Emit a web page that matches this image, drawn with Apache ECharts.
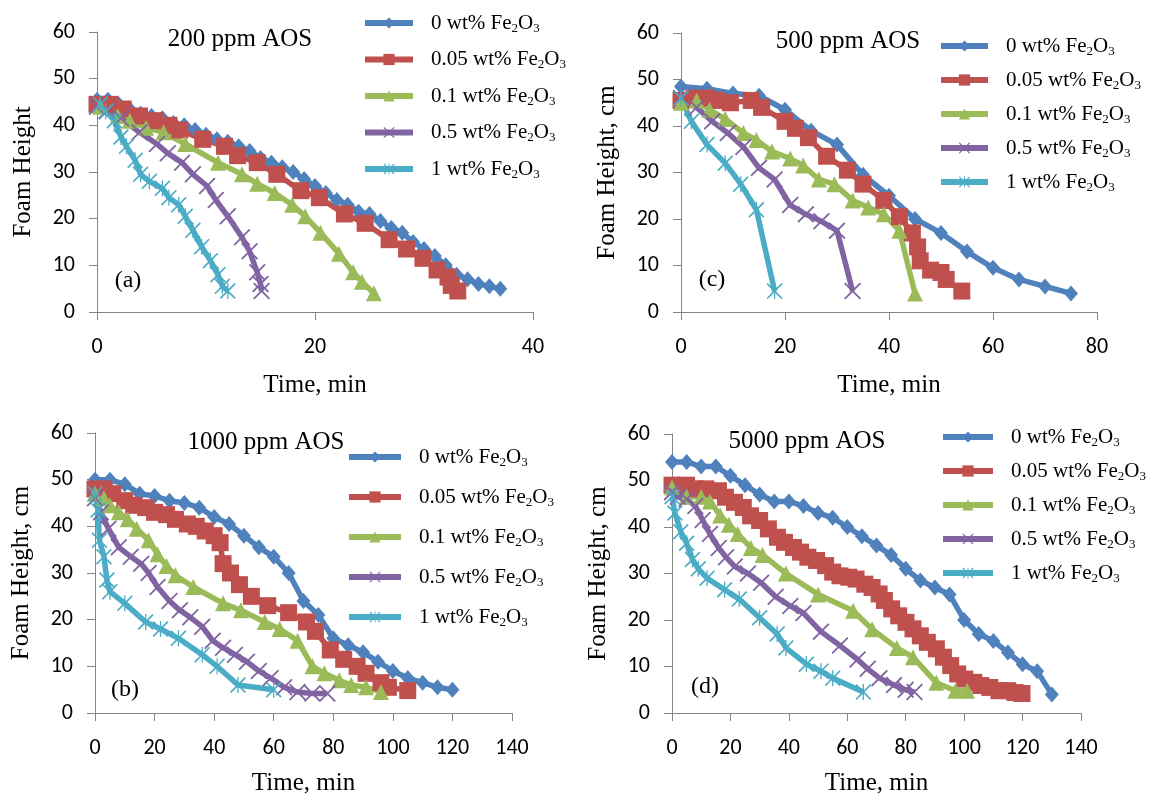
<!DOCTYPE html>
<html>
<head>
<meta charset="utf-8">
<script src="https://cdn.jsdelivr.net/npm/echarts@6/dist/echarts.min.js"></script>
<style>
html, body { margin: 0; padding: 0; background: #fff; }
#chart { width: 1169px; height: 800px; }
</style>
</head>
<body>
<div id="chart"></div>
<script>
// series names and colours
var seriesNames = ['0 wt% Fe2O3', '0.05 wt% Fe2O3', '0.1 wt% Fe2O3', '0.5 wt% Fe2O3', '1 wt% Fe2O3'];
var seriesColors = ['#4F81BD', '#C0504D', '#9BBB59', '#8064A2', '#4BACC6'];

// panel titles / labels
var panelTitles = ['200 ppm AOS', '500 ppm AOS', '1000 ppm AOS', '5000 ppm AOS'];
var panelLetters = ['(a)', '(c)', '(b)', '(d)'];
var yNames = ['Foam Height', 'Foam Height, cm', 'Foam Height, cm', 'Foam Height, cm'];
var xMax = [40, 80, 140, 140];

// (a) 200 ppm AOS  [time min, foam height]
var a_0 = [[0,45.5],[1,45.5],[2,44.5],[3,43.5],[4,42.5],[5,42],[6,41.5],[7,40.5],[8,40],[9,39],[10,38],[11,37],[12,36.5],[13,35.5],[14,34.5],[15,33],[16,32],[17,31],[18,30],[19,28.5],[20,27],[21,25.5],[22,24],[23,23],[24,21.5],[25,21],[26,19.5],[27,18],[28,17],[29,15],[30,13.5],[31,12],[32,10],[33,8],[34,7],[35,6],[36,5.5],[37,5]];
var a_005 = [[0,44.5],[1.2,44.5],[2.4,43.5],[3.9,42],[5.3,41],[6.6,40],[7.6,39],[9.7,37],[11.7,35.5],[12.9,33.5],[14.7,32],[16.5,29.5],[18.7,26],[20.4,24.5],[22.7,21],[24.6,19],[26.8,15.5],[28.4,13.5],[29.9,11.5],[31.2,9],[32.2,7.5],[32.5,5.7],[33.1,4.5]];
var a_01 = [[0.3,44],[1.9,42],[3,41],[4.5,39.5],[6.1,38.5],[8.1,36],[11.1,32],[13.3,29.5],[14.7,27.5],[16.3,25.5],[17.9,23],[19.1,20.5],[20.5,17],[22.2,12.5],[23.5,8.5],[24.3,6.5],[25.4,4]];
var a_05 = [[0,44],[0.9,43],[2.2,41.5],[3.9,38.5],[5.5,36],[6.5,34],[7.8,32],[8.8,29.5],[10.1,27],[10.9,24],[12,20.5],[13.3,16],[14,13],[14.7,8.5],[15,6],[15.1,4.5]];
var a_1 = [[0.3,44.5],[0.8,43],[1.6,41],[2.2,37.5],[2.7,35.5],[3.5,32.5],[4,29.5],[4.8,28],[6,26.5],[6.6,24.5],[7.5,23],[8.1,20.5],[8.8,17.5],[9.6,14],[10.4,11],[11.1,8],[11.5,5.5],[12,4.5]];

// (c) 500 ppm AOS
var c_0 = [[0,48.5],[5,48],[10,47],[15,46.5],[20,43.5],[25,39],[30,36],[35,29.5],[40,25],[45,20],[50,17],[55,13],[60,9.5],[65,7],[70,5.5],[75,4]];
var c_005 = [[0,45.5],[2.5,46],[5,46],[7,45.5],[9.5,45],[13.5,45.5],[15.5,44],[20,41],[22,39.5],[24.5,37.5],[28,33.5],[32,30.5],[35,27.5],[39,24],[42,20.5],[44.5,17],[45.5,14],[46,11],[48,9],[50,8.5],[51,7],[54,4.5]];
var c_01 = [[0,45],[3,45.5],[5.5,43.5],[8.5,41.5],[12,38.5],[14.5,37],[17.5,34.5],[21,33],[23.5,31.5],[26.5,28.5],[29.5,27.5],[33,24],[36,22.5],[39,21],[42,17.5],[45,4]];
var c_05 = [[0,46],[3,44],[6,41],[9,38.5],[12,35.5],[15,31],[18,28.5],[21,23],[24,21],[27,19.5],[30,17.5],[33,4.5]];
var c_1 = [[0,46],[2,41],[5,36],[8.5,32],[11.5,27.5],[14.5,22],[18,4.5]];

// (b) 1000 ppm AOS
var b_0 = [[0,50],[5,50],[10,49],[15,47],[20,46.5],[25,45.5],[30,45],[35,44],[40,42],[45,40.5],[50,38],[55,35.5],[60,33.5],[65,30],[70,24],[75,21],[80,16],[85,14.5],[90,13],[95,11],[100,9],[105,7.5],[110,6.5],[115,5.5],[120,5]];
var b_005 = [[0,48],[3,48],[6,47],[10,45.5],[13,44.5],[17,44],[20,43],[24,42.5],[27,41.5],[31,40.5],[34,40],[37,39],[40,38],[42,36.5],[43,32],[45.5,30],[48.5,27.5],[52.5,25],[58,23],[65,21.5],[71,19.5],[74,17.5],[79,13.5],[83.5,11.5],[88,10],[91,8.5],[96,6.5],[98.5,5.5],[105,4.8]];
var b_01 = [[0,47],[3,46],[5,44.5],[8,43],[11,41.5],[14,39.5],[18,37],[21,34],[24,31.5],[27,29.5],[33,27],[43,23.5],[49,22],[57,19.5],[62,18],[68,15.5],[73,10],[77,8.5],[82,7],[86,6],[91,5.5],[96,4.5]];
var b_05 = [[0,46],[2,43],[4.5,39.5],[8,35.5],[12,33.5],[15.5,32],[18,30],[21,27],[25,24],[28.5,22],[32,20.5],[36,18.5],[39.5,15.5],[43,14],[47,12.5],[51,11],[55,9],[59,7.5],[63.5,5.5],[68,4.5],[73,4.2],[78,4.2]];
var b_1 = [[0,47],[1,43.5],[1.5,37],[3,33.5],[4,28.5],[5,26],[10,23.5],[17,19.5],[22,18],[28,16],[36,12.5],[41,10],[48,6],[60,5]];

// (d) 5000 ppm AOS
var d_0 = [[0,54],[5,54],[10,53],[15,53],[20,51],[25,49],[30,47],[35,45.5],[40,45.5],[45,44.5],[50,43],[55,42],[60,40],[65,38],[70,36],[75,34],[80,31],[85,28.5],[90,27],[95,25.5],[100,20],[105,17],[110,15.5],[115,13],[120,10.5],[125,9],[130,4]];
var d_005 = [[0,49],[5,49],[8,48.2],[11.6,48.2],[15.9,47.8],[18.3,46.4],[21.4,45.3],[24.4,44.2],[26.9,42.4],[30,41.4],[33,39.6],[36.1,37.8],[38.5,36.7],[41.6,35.6],[44,34.6],[46.5,33.5],[49.5,32.8],[52.6,31.7],[55,30.3],[57.5,29.5],[60.5,29.2],[63,28.8],[66,27.7],[68.5,27],[70.9,25.6],[72.7,24.2],[75.2,22.4],[77.6,20.9],[80.1,19.5],[82.5,18.1],[85,16.6],[87.4,15.2],[90.5,13.8],[92.9,12],[95.4,10.2],[97.8,8.4],[100.2,7.3],[103.3,6.6],[105.7,5.9],[108.8,5.5],[111.9,4.8],[114.9,4.8],[117.4,4.4],[119.8,4.2]];
var d_01 = [[0,48.5],[5,46.5],[10,46.5],[13,45.5],[16.5,42.5],[19.5,40.5],[22.5,38.5],[27,35.5],[31,34],[39,30],[50,25.5],[62,22],[68.5,18],[77,14],[82.5,12],[90.5,6.5],[97,4.8],[101,4.8]];
var d_05 = [[0,47.5],[2,46.5],[5,46],[8,44.5],[10.5,41.5],[13,38.5],[16,35.5],[18.5,33.5],[21.5,31.5],[26,30],[30.5,28],[35.5,25],[40.5,23],[45,21.5],[51,17.5],[57.5,14.5],[63.5,11.5],[67,9.5],[71,7.5],[76,6],[80,5],[83,4.5]];
var d_1 = [[0,46.5],[1,43],[3,39],[5,36.5],[7,33],[9,31],[12,29],[18,26.5],[23,24.5],[30,20.5],[36,17],[39,14],[46,10.5],[51,9],[55,7.5],[65.5,4.5]];

var panelData = [
    [a_0, a_005, a_01, a_05, a_1],
    [c_0, c_005, c_01, c_05, c_1],
    [b_0, b_005, b_01, b_05, b_1],
    [d_0, d_005, d_01, d_05, d_1]
];

// marker shapes (excel style)
var xMark = 'path://M0,1.5 L1.5,0 L10,8.5 L18.5,0 L20,1.5 L11.5,10 L20,18.5 L18.5,20 L10,11.5 L1.5,20 L0,18.5 L8.5,10 Z';
var starMark = xMark + ' M9.2,0 L10.8,0 L10.8,20 L9.2,20 Z';
var seriesSymbols = ['diamond', 'rect', 'triangle', xMark, starMark];
var symbolSizes = [[14, 16], 17, 16, 17, 16];

// layout of the four panels
var grids = [
    {left: 97, top: 32, width: 436, height: 280},
    {left: 681, top: 33, width: 416, height: 279},
    {left: 95, top: 433, width: 417, height: 280},
    {left: 672, top: 434, width: 409, height: 279}
];
var legendPos = [
    {left: 362, top: 11, itemWidth: 48, itemGap: 12.5},
    {left: 938, top: 34, itemWidth: 47, itemGap: 10},
    {left: 346, top: 445, itemWidth: 52, itemGap: 16},
    {left: 940, top: 425, itemWidth: 50, itemGap: 10}
];
var titlePos = [[240, 39], [848, 41], [266, 442], [807, 441]];
var letterPos = [[128, 281], [712, 280], [125, 690], [705, 687]];

var serif = '"Liberation Serif", "Times New Roman", serif';
var axisGray = '#868686';

function fmtLegend(name) {
    return name.replace('Fe2O3', 'Fe{s|2}O{s|3}');
}

function build_option() {
    var xAxes = [], yAxes = [], series = [], legends = [], graphics = [];
    for (var p = 0; p < 4; p++) {
        var small = p >= 2;
        xAxes.push({
            type: 'value', gridIndex: p, min: 0, max: xMax[p], interval: 20,
            name: 'Time, min', nameLocation: 'middle', nameGap: small ? 58 : 61,
            nameTextStyle: {fontFamily: serif, fontSize: 25, color: '#000'},
            axisLine: {show: true, lineStyle: {color: axisGray, width: 1}},
            axisTick: {show: true, inside: false, length: 8, lineStyle: {color: axisGray}},
            axisLabel: {fontFamily: 'Carlito, Lato, sans-serif', fontSize: 22, color: '#000', margin: 24},
            splitLine: {show: false}
        });
        yAxes.push({
            type: 'value', gridIndex: p, min: 0, max: 60, interval: 10,
            name: yNames[p], nameLocation: 'middle', nameGap: 61,
            nameTextStyle: {fontFamily: serif, fontSize: 25, color: '#000'},
            axisLine: {show: true, lineStyle: {color: axisGray, width: 1}},
            axisTick: {show: true, inside: false, length: 8, lineStyle: {color: axisGray}},
            axisLabel: {fontFamily: 'Carlito, Lato, sans-serif', fontSize: 22, color: '#000', margin: 22},
            splitLine: {show: false}
        });
        for (var s = 0; s < 5; s++) {
            series.push({
                name: seriesNames[s], type: 'line',
                xAxisIndex: p, yAxisIndex: p,
                data: panelData[p][s],
                symbol: seriesSymbols[s], symbolSize: symbolSizes[s],
                showAllSymbol: true,
                lineStyle: {color: seriesColors[s], width: 5.5},
                itemStyle: {color: seriesColors[s]},
                animation: false
            });
        }
        var lp = legendPos[p];
        legends.push({
            orient: 'vertical', left: lp.left, top: lp.top, padding: 0,
            itemWidth: lp.itemWidth, itemHeight: 14, itemGap: lp.itemGap,
            data: seriesNames, selectedMode: false,
            formatter: fmtLegend,
            lineStyle: {width: 6},
            textStyle: {
                fontFamily: serif, fontSize: 21, color: '#000', lineHeight: 24,
                padding: [0, 0, 0, 13],
                rich: {s: {fontFamily: serif, fontSize: 13, lineHeight: 14, verticalAlign: 'bottom', color: '#000'}}
            }
        });
        graphics.push({
            type: 'text', x: titlePos[p][0], y: titlePos[p][1],
            style: {text: panelTitles[p], fontFamily: serif, fontSize: 25, fill: '#000', align: 'center', verticalAlign: 'middle'}
        });
        graphics.push({
            type: 'text', x: letterPos[p][0], y: letterPos[p][1],
            style: {text: panelLetters[p], fontFamily: serif, fontSize: 24, fill: '#000', align: 'center', verticalAlign: 'middle'}
        });
    }
    return {
        backgroundColor: '#fff',
        animation: false,
        grid: grids.map(function (g) { return Object.assign({outerBoundsMode: 'none', containLabel: false}, g); }),
        xAxis: xAxes,
        yAxis: yAxes,
        legend: legends,
        graphic: graphics,
        series: series
    };
}

var myChart = echarts.init(document.getElementById('chart'), null, {renderer: 'canvas'});
myChart.setOption(build_option());
</script>
</body>
</html>
